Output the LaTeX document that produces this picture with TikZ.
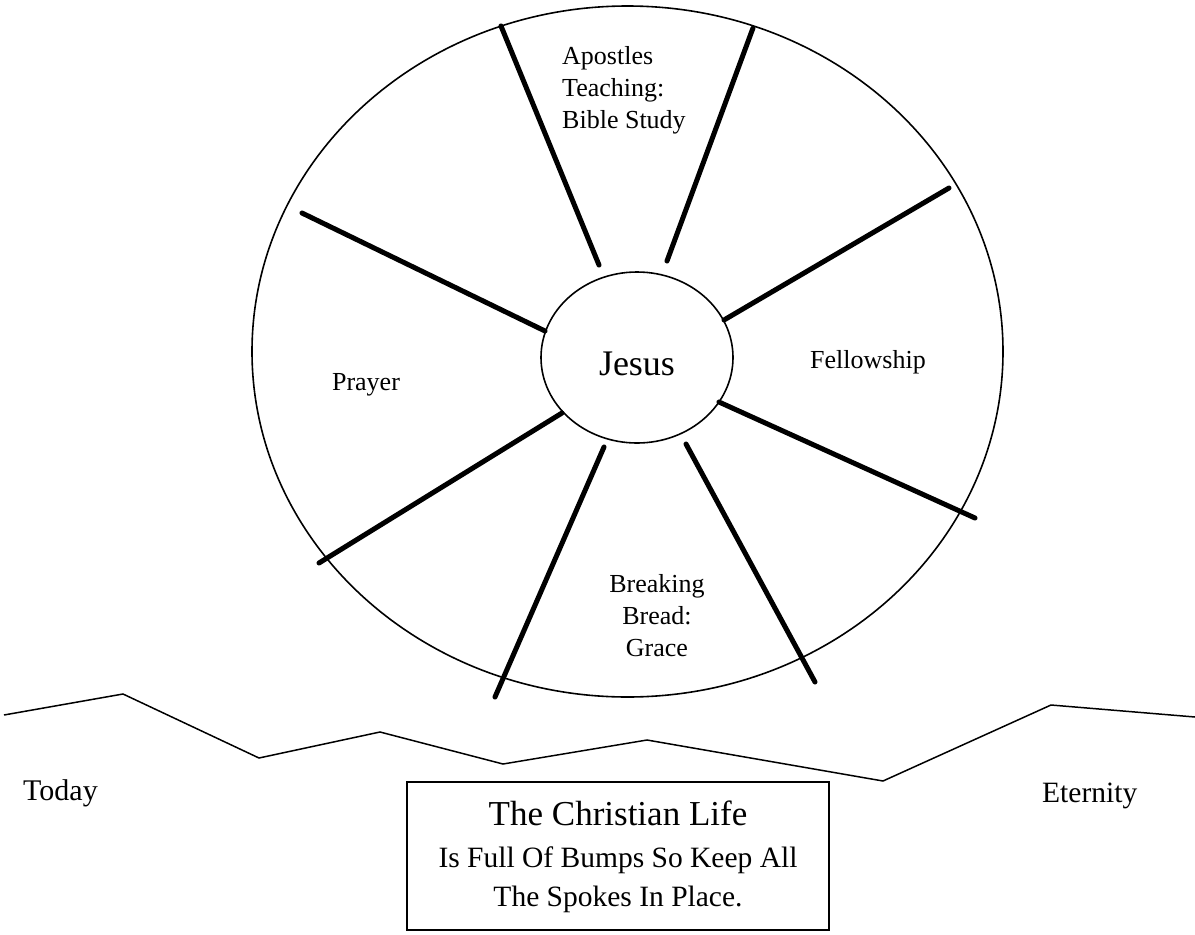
\documentclass[tikz,border=0pt]{standalone}
\usepackage{fontspec}
\setmainfont{Liberation Serif}
\usetikzlibrary{shapes.geometric}
\begin{document}
\begin{tikzpicture}[x=1pt,y=-1pt,
  rim/.style={line width=1.6pt},
  spoke/.style={line width=5pt,line cap=round},
  road/.style={line width=1.5pt,line join=miter},
  lbl/.style={inner sep=0pt,font=\fontsize{26}{32}\selectfont},
  endlbl/.style={inner sep=0pt,anchor=base west}]
\useasboundingbox (0,0) rectangle (1195,935);
% wheel
\draw[rim] (627.5,351.5) ellipse [x radius=375.5, y radius=345.5];
\node[draw,rim,ellipse,minimum width=192pt,minimum height=171pt,inner sep=0pt] (hub) at (637,357.5) {};
\node[inner sep=0pt,anchor=base,font=\fontsize{36}{40}\selectfont] (jesus) at (637,375) {Jesus};
% spokes
\coordinate (s1a) at (599,265); \coordinate (s1b) at (501,26);
\coordinate (s2a) at (667,261); \coordinate (s2b) at (753,28);
\coordinate (s3a) at (724,320); \coordinate (s3b) at (949,188);
\coordinate (s4a) at (719,402); \coordinate (s4b) at (975,518);
\coordinate (s5a) at (686,444); \coordinate (s5b) at (815,682);
\coordinate (s6a) at (604,447); \coordinate (s6b) at (495,697);
\coordinate (s7a) at (562,413); \coordinate (s7b) at (319,563);
\coordinate (s8a) at (545,331); \coordinate (s8b) at (302,213);
\foreach \i in {1,...,8} \draw[spoke] (s\i a) -- (s\i b);
% segment labels
\node[lbl,align=left,anchor=north west] (apostles) at (562,46) {Apostles\\Teaching:\\Bible Study};
\node[lbl,anchor=base] (prayer) at (366,390) {Prayer};
\node[lbl,anchor=base] (fellow) at (868,368) {Fellowship};
\node[lbl,align=center,anchor=north] (bread) at (657,574) {Breaking\\Bread:\\Grace};
% road
\coordinate (r1) at (4,715); \coordinate (r2) at (123,694); \coordinate (r3) at (259,758);
\coordinate (r4) at (380,732); \coordinate (r5) at (503,764); \coordinate (r6) at (647,740);
\coordinate (r7) at (883,781); \coordinate (r8) at (1051,705); \coordinate (r9) at (1195,717);
\draw[road] (r1) -- (r2) -- (r3) -- (r4) -- (r5) -- (r6) -- (r7) -- (r8) -- (r9);
\node[endlbl,font=\fontsize{30}{34}\selectfont] (today) at (23,800) {Today};
\node[endlbl,font=\fontsize{29.5}{34}\selectfont] (eternity) at (1042,802) {Eternity};
% message box
\draw[rim] (407,782) rectangle (829,930);
\node[inner sep=0pt,anchor=base,font=\fontsize{35}{40}\selectfont] (title) at (618,825) {The Christian Life};
\node[inner sep=0pt,anchor=base,font=\fontsize{29.5}{37}\selectfont] (msg) at (618,867) {Is Full Of Bumps So Keep All};
\node[inner sep=0pt,anchor=base,font=\fontsize{29.5}{37}\selectfont] (msg2) at (618,906) {The Spokes In Place.};
\end{tikzpicture}
\end{document}
